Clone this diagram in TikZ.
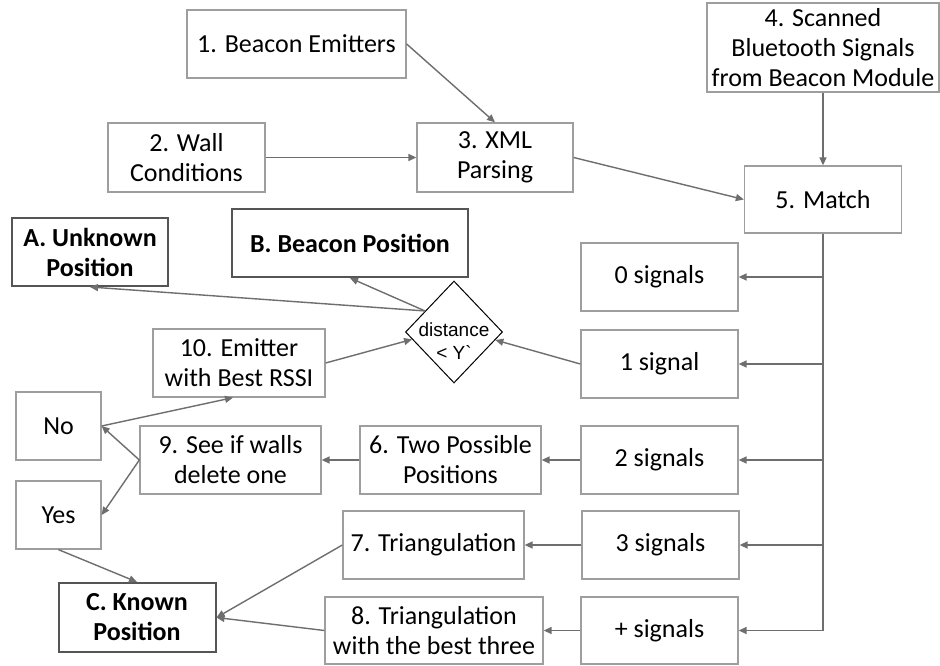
\documentclass[tikz,border=0pt]{standalone}
\usepackage{fontspec}
\setmainfont{Carlito}
\newfontfamily\diafont{Liberation Sans}
\usetikzlibrary{shapes.geometric,arrows.meta,calc}
\definecolor{boxgray}{HTML}{9E9E9E}
\definecolor{darkbox}{HTML}{555555}
\definecolor{linegray}{HTML}{6E6E6E}

\begin{document}
\begin{tikzpicture}[x=1pt,y=-1pt,
  font=\fontsize{26}{30}\selectfont,
  box/.style={draw=boxgray, line width=1.3pt, align=center, inner sep=0pt,
              minimum width=157pt, minimum height=68pt},
  result/.style={box, draw=darkbox, line width=2pt, font=\fontsize{26}{30}\selectfont\bfseries},
  decision/.style={diamond, draw=black, line width=1pt, inner sep=0pt,
                   minimum width=97pt, minimum height=102pt},
  arr/.style={draw=linegray, line width=1.4pt, -{Triangle[length=8pt,width=7pt]}},
  trunk/.style={draw=linegray, line width=1.4pt}]

\useasboundingbox[fill=white] (0,0) rectangle (940,666);

% inputs
\node[box, minimum width=219pt] (b1) at (296.5,44) {1. Beacon Emitters};
\node[box, minimum height=69pt] (b2) at (186.5,157.5) {2. Wall\\Conditions};
\node[box, minimum width=156pt, minimum height=69pt] (b3) at (495,157.5) {3. XML\\Parsing};
\node[box, minimum width=232pt, minimum height=89pt] (b4) at (823,47.5) {4. Scanned\\Bluetooth Signals\\from Beacon Module};
\node[box, minimum height=67pt] (b5) at (823,199.5) {5. Match};

% signal counts
\node[box] (s0) at (659.5,277) {0 signals};
\node[box] (s1) at (659.5,364) {1 signal};
\node[box] (s2) at (659.5,460) {2 signals};
\node[box] (s3) at (660.5,545) {3 signals};
\node[box, minimum height=67pt] (sp) at (659.5,630.5) {+ signals};

% processing steps
\node[box, minimum width=181pt] (six) at (450.5,460) {6. Two Possible\\Positions};
\node[box, minimum width=181pt] (nine) at (230.5,460) {9. See if walls\\delete one};
\node[box, minimum width=181pt] (seven) at (433.5,545) {7. Triangulation};
\node[box, minimum width=218pt, minimum height=67pt] (eight) at (434,630.5) {8. Triangulation\\with the best three};
\node[box, minimum width=172pt] (ten) at (239,363) {10. Emitter\\with Best RSSI};
\node[box, minimum width=85pt] (no) at (58.5,426) {No};
\node[box, minimum width=85pt] (yes) at (58.5,515) {Yes};

% decision
\node[decision] (dec) at (454,332) {};
\node[font=\diafont\fontsize{19}{22.5}\selectfont, align=center, inner sep=0pt] (dectext) at (454,341) {distance\\< Y\textasciigrave};

% results
\node[result, minimum width=156pt] (A) at (90,252) {A. Unknown\\Position};
\node[result, minimum width=236pt] (B) at (350,243) {B. Beacon Position};
\node[result, minimum width=157pt, minimum height=69pt] (C) at (137,617.5) {C. Known\\Position};

% data preparation
\draw[arr] (b1.east) -- (b3.north);
\draw[arr] (b2.east) -- (b3.west);
\draw[arr] (b3.east) -- (b5.west);
\draw[arr] (b4.south) -- (b5.north);

% branching by number of signals
\draw[trunk] (b5.south) -- (b5.south |- sp.east);
\draw[arr] (b5.south |- s0.east) -- (s0.east);
\draw[arr] (b5.south |- s1.east) -- (s1.east);
\draw[arr] (b5.south |- s2.east) -- (s2.east);
\draw[arr] (b5.south |- s3.east) -- (s3.east);
\draw[arr] (b5.south |- sp.east) -- (sp.east);

% single signal / distance check
\draw[arr] (s1.west) -- (dec.-11);
\draw[arr] (ten.east) -- (dec.190);
\draw[arr] (dec.144) -- (A.south);
\draw[arr] (dec.144) -- (B.south);

% two signals
\draw[arr] (s2.west) -- (six.east);
\draw[arr] (six.west) -- (nine.east);
\draw[arr] (nine.west) -- (no.east);
\draw[arr] (nine.west) -- (yes.east);
\draw[arr] (no.east) -- ($(ten.south)+(-6,0)$);
\draw[arr] (yes.south) -- (C.north);

% three or more signals
\draw[arr] (s3.west) -- (seven.east);
\draw[arr] (sp.west) -- (eight.east);
\draw[arr] (seven.west) -- (C.east);
\draw[arr] (eight.west) -- (C.east);
\end{tikzpicture}
\end{document}
